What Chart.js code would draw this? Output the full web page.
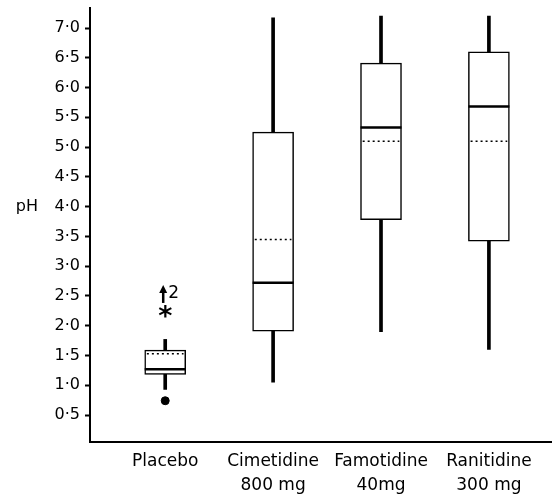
<!DOCTYPE html>
<html>
  <head>
    <meta charset="UTF-8" />
    <title>Gastric pH</title>
    <style>
      html, body { margin: 0; padding: 0; background: #fff; overflow: hidden; }
      #wrap { width: 558px; height: 496px; }
    </style>
  </head>
  <body>
    <div id="wrap"><canvas id="chart"></canvas></div>
    <script src="https://cdn.jsdelivr.net/npm/chart.js"></script>
    <script>
      // groups along the x axis (multi-line labels)
      const categories = ['Placebo', ['Cimetidine', '800 mg'], ['Famotidine', '40mg'], ['Ranitidine', '300 mg']];
      const positions = [1, 2, 3, 4];

      // box plot values
      const whiskerLow = [0.93, 1.05, 1.9, 1.6];
      const q1 = [1.18, 1.91, 3.78, 3.42];
      const medians = [1.27, 2.72, 5.33, 5.68];
      const means = [1.53, 3.45, 5.1, 5.1];
      const q3 = [1.59, 5.25, 6.41, 6.6];
      const whiskerHigh = [1.77, 7.17, 7.2, 7.2];

      // extra marks on the placebo column
      const outlierDots = [{ x: 1, y: 0.74 }];
      const outlierStars = [{ x: 1, y: 2.23 }];
      const offScale = [{ x: 1, y: 2.5, label: '2' }];

      const yTicks = [0.5, 1, 1.5, 2, 2.5, 3, 3.5, 4, 4.5, 5, 5.5, 6, 6.5, 7];

      const halfBox = 0.19; // half width of median / mean lines, in x units
      const FONT = 'DejaVu Sans';

      // build median & mean segments, broken with nulls
      function segments(vals, inset) {
        const pts = [];
        vals.forEach((v, i) => {
          pts.push({ x: positions[i] - halfBox + inset, y: v });
          pts.push({ x: positions[i] + halfBox - inset, y: v });
          pts.push({ x: positions[i], y: null });
        });
        return pts;
      }

      const annotate = {
        id: 'annotate',
        afterDatasetsDraw(chart) {
          const { ctx, scales: { x, y } } = chart;
          ctx.save();
          ctx.fillStyle = '#000';
          ctx.strokeStyle = '#000';

          ctx.font = '16px "' + FONT + '"';
          ctx.textAlign = 'right';
          ctx.textBaseline = 'middle';
          ctx.fillText('pH', x.left - 52, y.getPixelForValue(4));

          ctx.font = 'bold 27px "' + FONT + '"';
          ctx.textAlign = 'center';
          outlierStars.forEach(p => {
            ctx.fillText('*', x.getPixelForValue(p.x), y.getPixelForValue(p.y) + 6);
          });

          offScale.forEach(p => {
            const px = x.getPixelForValue(p.x) - 2;
            const py = y.getPixelForValue(p.y);
            ctx.beginPath();
            ctx.moveTo(px, py - 11);
            ctx.lineTo(px - 4, py - 3);
            ctx.lineTo(px + 4, py - 3);
            ctx.closePath();
            ctx.fill();
            ctx.lineWidth = 2.5;
            ctx.beginPath();
            ctx.moveTo(px, py - 4);
            ctx.lineTo(px, py + 7);
            ctx.stroke();
            ctx.font = '17px "' + FONT + '"';
            ctx.textAlign = 'left';
            ctx.fillText(p.label, px + 5, py - 2);
          });
          ctx.restore();
        }
      };

      const ctx = document.getElementById('chart').getContext('2d');
      new Chart(ctx, {
        type: 'bar',
        data: {
          datasets: [
            {
              type: 'line',
              data: segments(medians, 0),
              borderColor: '#000',
              borderWidth: 2.5,
              pointRadius: 0,
              spanGaps: false,
              order: 1
            },
            {
              type: 'line',
              data: segments(means, 0.02),
              borderColor: '#000',
              borderWidth: 1.5,
              borderDash: [2, 3],
              pointRadius: 0,
              spanGaps: false,
              order: 1
            },
            {
              type: 'scatter',
              data: outlierDots,
              pointStyle: 'circle',
              pointRadius: 4,
              backgroundColor: '#000',
              borderColor: '#000',
              order: 0
            },
            {
              label: 'box',
              data: positions.map((p, i) => ({ x: p, y: [q1[i], q3[i]] })),
              backgroundColor: '#fff',
              borderColor: '#000',
              borderWidth: 1.5,
              borderSkipped: false,
              barThickness: 41,
              grouped: false,
              order: 2
            },
            {
              label: 'whisker',
              data: positions.map((p, i) => ({ x: p, y: [whiskerLow[i], whiskerHigh[i]] })),
              backgroundColor: '#000',
              borderWidth: 0,
              barThickness: 3,
              grouped: false,
              order: 3
            }
          ]
        },
        options: {
          responsive: true,
          maintainAspectRatio: false,
          animation: false,
          layout: { padding: { top: 8, right: 0, bottom: 0, left: 0 } },
          plugins: {
            legend: { display: false },
            tooltip: { enabled: false }
          },
          scales: {
            x: {
              type: 'linear',
              offset: false,
              min: 0.303,
              max: 4.594,
              afterBuildTicks: (s) => { s.ticks = positions.map(v => ({ value: v })); },
              afterFit: (s) => { s.height = 54; s.paddingLeft = 0; s.paddingRight = 0; },
              grid: { display: true, drawOnChartArea: false, drawTicks: false, offset: false },
              border: { display: true, color: '#000', width: 2 },
              ticks: {
                color: '#000',
                padding: 7,
                maxRotation: 0,
                autoSkip: false,
                font: { family: FONT, size: 17, lineHeight: 1.45 },
                callback: (v) => categories[positions.indexOf(v)]
              }
            },
            y: {
              min: 0.047,
              max: 7.336,
              afterBuildTicks: (s) => { s.ticks = yTicks.map(v => ({ value: v })); },
              afterFit: (s) => { s.width = 90; s.paddingTop = 0; s.paddingBottom = 0; },
              grid: { display: true, drawOnChartArea: false, tickLength: 5, tickColor: '#000', tickWidth: 2 },
              border: { display: true, color: '#000', width: 2 },
              ticks: {
                color: '#000',
                padding: 5,
                font: { family: FONT, size: 16 },
                callback: (v) => v.toFixed(1).replace('.', '\u00b7')
              }
            }
          }
        },
        plugins: [annotate]
      });
    </script>
  </body>
</html>
